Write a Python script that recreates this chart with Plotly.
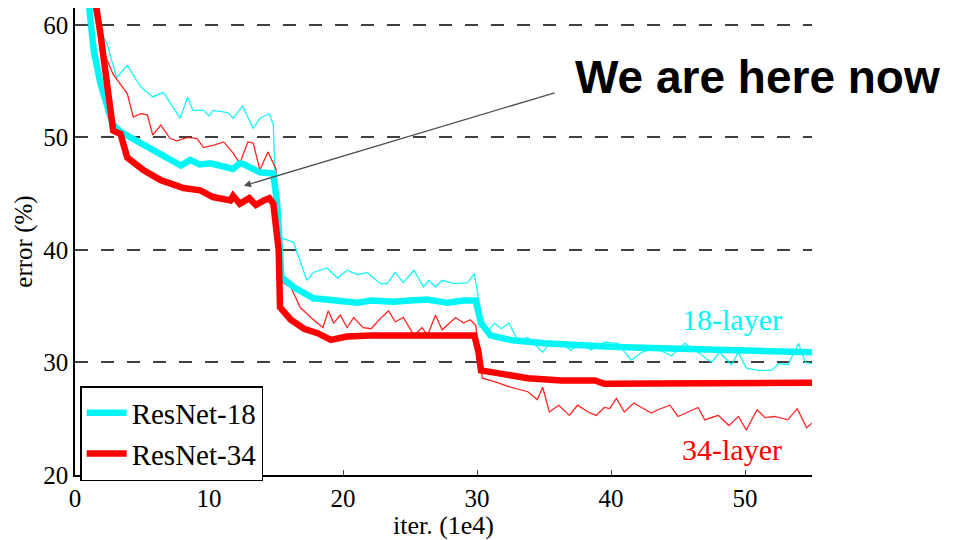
import plotly.graph_objects as go

# ---- data (iter in 1e4, error in %) ----
x_val18 = [0.8, 1.4, 1.9, 2.4, 2.8, 3.4, 4.3, 4.9, 6.1, 6.4, 7.9, 8.6, 9.3, 10.1, 11.1, 11.8,
           12.3, 12.6, 13.3, 13.8, 14.8, 15.1, 15.4, 16.3, 17.8, 19.6, 21.1, 22.1, 23.8, 25.0,
           26.3, 27.8, 29.0, 29.9, 30.3, 31.0, 32.5, 35.0, 37.5, 40.0, 42.3, 45.0, 47.5, 50.0,
           52.5, 55.0]
y_val18 = [64.5, 57.7, 54.8, 52.5, 51.2, 50.5, 49.9, 49.5, 48.6, 48.5, 47.5, 48.0, 47.6, 47.7,
           47.4, 47.2, 47.7, 47.6, 47.2, 46.9, 46.8, 44.0, 37.6, 36.7, 35.7, 35.5, 35.3, 35.5,
           35.4, 35.5, 35.6, 35.3, 35.5, 35.5, 33.5, 32.4, 32.0, 31.7, 31.5, 31.4, 31.3, 31.2,
           31.1, 31.0, 31.0, 30.9]

x_val34 = [1.3, 1.5, 1.9, 2.4, 2.85, 3.4, 3.9, 5.1, 6.4, 8.1, 9.35, 10.3, 11.0, 11.6, 11.8,
           12.3, 13.0, 13.5, 14.1, 14.5, 14.8, 15.2, 15.3, 16.1, 17.1, 18.1, 19.1, 20.3, 22.1,
           23.8, 26.3, 28.0, 29.8, 30.1, 30.3, 31.3, 33.8, 36.3, 38.8, 39.5, 42.3, 45.0, 47.5,
           50.0, 52.5, 55.0]
y_val34 = [64.5, 62.2, 59.2, 54.8, 50.6, 50.3, 48.2, 47.1, 46.2, 45.5, 45.3, 44.7, 44.6, 44.4,
           44.8, 44.1, 44.6, 44.0, 44.4, 44.6, 44.1, 40.0, 34.9, 33.8, 33.0, 32.6, 32.0, 32.3,
           32.4, 32.4, 32.3, 32.4, 32.4, 31.0, 29.3, 29.1, 28.6, 28.4, 28.4, 28.1, 28.1, 28.2,
           28.1, 28.2, 28.1, 28.2]

x_tr18 = [0.9, 1.87, 2.4, 3.1, 3.9, 4.9, 5.8, 6.6, 7.85, 8.4, 8.8, 9.6, 10.0, 10.3, 11.4, 11.8,
          12.5, 13.3, 13.8, 14.5, 14.8, 15.1, 15.3, 16.3, 17.3, 17.8, 18.8, 19.6, 20.3, 21.1,
          21.8, 22.8, 23.3, 23.9, 24.5, 25.3, 26.0, 26.4, 26.9, 27.4, 28.3, 29.3, 29.8, 30.3,
          30.7, 31.3, 31.8, 32.4, 33.0, 33.8, 34.9, 35.5, 36.3, 37.0, 37.9, 38.5, 39.5, 40.5,
          41.5, 42.3, 43.3, 44.5, 45.5, 46.5, 47.5, 48.1, 49.0, 49.5, 50.1, 51.0, 52.0, 52.5,
          53.2, 54.0, 54.5, 55.0]
y_tr18 = [63.0, 59.5, 58.3, 55.3, 56.4, 54.5, 53.6, 54.0, 51.7, 53.6, 52.4, 52.4, 51.9, 52.4,
          52.2, 51.7, 52.8, 50.8, 51.7, 52.1, 51.1, 40.9, 41.1, 40.7, 37.3, 38.0, 38.4, 37.5,
          38.2, 37.8, 38.0, 37.0, 37.0, 38.0, 37.1, 38.2, 36.7, 37.3, 36.7, 37.3, 37.0, 37.1,
          37.9, 34.4, 32.6, 33.5, 33.0, 33.5, 32.0, 32.2, 30.9, 31.8, 31.7, 31.1, 31.8, 31.1,
          31.8, 31.7, 30.2, 30.9, 31.3, 30.6, 31.7, 30.9, 30.0, 30.9, 29.8, 30.9, 29.5, 29.3,
          29.3, 29.9, 29.8, 31.7, 30.0, 29.9]

x_tr34 = [1.3, 1.6, 2.1, 2.85, 3.9, 4.35, 4.9, 5.4, 5.8, 6.4, 7.1, 7.6, 8.4, 9.1, 9.6, 10.3,
          11.1, 11.8, 12.3, 12.9, 13.3, 13.8, 14.4, 14.7, 15.0, 15.3, 15.5, 16.1, 16.8, 17.6,
          18.5, 18.9, 19.3, 19.8, 20.3, 20.8, 21.5, 22.1, 22.7, 23.4, 23.9, 24.5, 25.3, 25.9,
          26.3, 26.9, 27.4, 28.4, 29.0, 29.5, 29.9, 30.4, 31.3, 32.5, 33.8, 34.5, 34.9, 35.4,
          36.1, 36.9, 37.5, 38.3, 38.9, 39.5, 39.9, 40.4, 41.0, 41.7, 42.3, 43.0, 43.5, 44.4,
          45.0, 45.8, 46.5, 47.0, 48.0, 48.8, 49.5, 50.1, 50.9, 51.5, 52.2, 53.2, 53.9, 54.6,
          55.0]
y_tr34 = [64.0, 60.6, 57.7, 55.6, 53.9, 51.8, 52.1, 52.0, 50.2, 51.1, 49.9, 49.7, 50.0, 49.9,
          49.1, 49.3, 49.6, 48.6, 47.7, 49.6, 49.5, 47.1, 48.7, 48.0, 47.2, 40.0, 37.1, 36.7,
          34.9, 34.0, 33.1, 34.6, 33.5, 34.2, 33.1, 34.0, 33.1, 33.0, 33.8, 34.6, 33.6, 34.0,
          32.4, 33.1, 32.4, 34.2, 32.9, 34.0, 33.5, 33.8, 33.3, 28.6, 28.3, 27.8, 27.4, 26.7,
          27.8, 25.6, 26.2, 25.3, 26.2, 25.6, 25.3, 26.0, 25.9, 26.8, 25.6, 26.4, 26.0, 25.5,
          25.8, 26.2, 25.2, 25.6, 26.0, 24.9, 25.3, 24.4, 25.2, 24.0, 25.8, 25.1, 25.2, 24.9,
          25.9, 24.2, 24.6]

assert len(x_val18) == len(y_val18)
assert len(x_val34) == len(y_val34)
assert len(x_tr18) == len(y_tr18)
assert len(x_tr34) == len(y_tr34)

x_ticks = [0, 10, 20, 30, 40, 50]
y_ticks = [20, 30, 40, 50, 60]

CYAN = "#00F5F5"
RED = "#FF0000"
SERIF = "Liberation Serif"

# page body has an 8px margin, so the figure is drawn 8px in from the top-left
W, H = 947, 532
ML, MR, MT, MB = 67, 143, 0, 65
PW, PH = W - ML - MR, H - MT - MB

fig = go.Figure()
fig.add_trace(go.Scatter(x=x_tr18, y=y_tr18, mode="lines", line=dict(color=CYAN, width=1.3),
                         showlegend=False, opacity=0.9))
fig.add_trace(go.Scatter(x=x_tr34, y=y_tr34, mode="lines", line=dict(color=RED, width=1.3),
                         showlegend=False, opacity=0.85))
fig.add_trace(go.Scatter(x=x_val18, y=y_val18, mode="lines", name="ResNet-18",
                         line=dict(color=CYAN, width=6.5)))
fig.add_trace(go.Scatter(x=x_val34, y=y_val34, mode="lines", name="ResNet-34",
                         line=dict(color=RED, width=6.5)))

fig.add_annotation(x=49.0, y=33.8, text="18-layer", showarrow=False, xref="x", yref="y",
                   font=dict(family=SERIF, size=30, color=CYAN))
fig.add_annotation(x=49.0, y=22.3, text="34-layer", showarrow=False, xref="x", yref="y",
                   font=dict(family=SERIF, size=30, color=RED))

fig.add_annotation(x=12.6, y=45.7, ax=35.9, ay=54.0, axref="x", ayref="y", xref="x", yref="y",
                   text="", showarrow=True, arrowhead=2, arrowsize=1.1, arrowwidth=1.3,
                   arrowcolor="#505050")
# text centre at window px (757, 77)
fig.add_annotation(x=(757 - 8 - ML) / PW, y=(H - MB - (77 - 8)) / PH, xref="paper",
                   yref="paper", xanchor="center", yanchor="middle",
                   text="<b>We are here now</b>", showarrow=False,
                   font=dict(family="Liberation Sans", size=46, color="black"))

fig.update_layout(
    width=W, height=H,
    margin=dict(l=ML, r=MR, t=MT, b=MB),
    paper_bgcolor="white", plot_bgcolor="white",
    showlegend=True,
    legend=dict(x=0.007, y=(H - MB - (386 - 8)) / PH, xanchor="left", yanchor="top",
                bordercolor="black", borderwidth=1.5, bgcolor="white",
                font=dict(family=SERIF, size=29, color="black"),
                itemwidth=40, tracegroupgap=0),
    xaxis=dict(range=[0, 55], tickvals=x_ticks, ticks="inside", ticklen=5,
               showline=True, linecolor="black", linewidth=1.5, showgrid=False,
               zeroline=False, automargin=False,
               tickfont=dict(family=SERIF, size=25, color="black"),
               title=dict(text="iter. (1e4)", font=dict(family=SERIF, size=26, color="black"),
                          standoff=0)),
    yaxis=dict(range=[20, 61.5], tickvals=y_ticks, ticks="inside", ticklen=5,
               showline=True, linecolor="black", linewidth=1.5, showgrid=True,
               gridcolor="#404040", gridwidth=1.5, griddash="13px,13px",
               zeroline=False, automargin=False,
               tickfont=dict(family=SERIF, size=25, color="black"),
               title=dict(text="error (%)", font=dict(family=SERIF, size=25, color="black"),
                          standoff=4)),
)

fig.write_html("out.html")
